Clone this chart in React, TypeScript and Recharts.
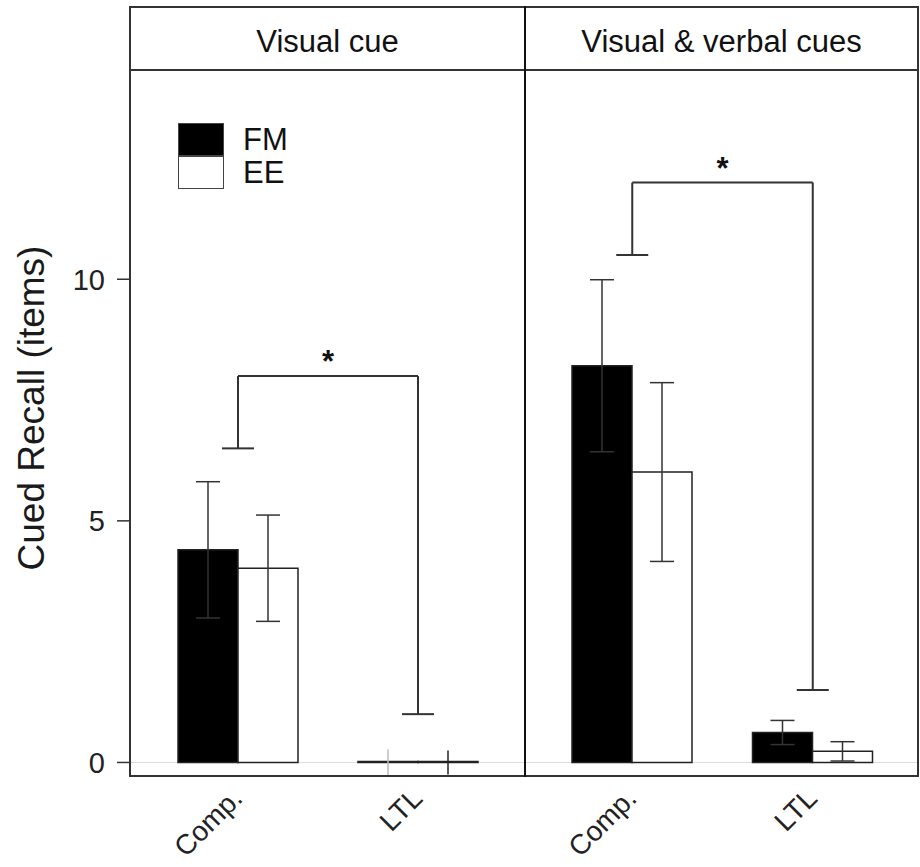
import React from 'react';
import { BarChart, Bar, XAxis, YAxis, ErrorBar, ReferenceLine, Legend } from 'recharts';

const panelTitles = ['Visual cue', 'Visual & verbal cues'];
const categories = ['Comp.', 'LTL'];
const seriesNames = ['FM', 'EE'];
const yTicks = [0, 5, 10];

// Visual cue panel
const visualFM = [4.4, 0];
const visualFMErr = [1.41, null];
const visualFMZeroErr = [null, 0.27];
const visualEE = [4.02, 0];
const visualEEErr = [1.1, null];
const visualEEZeroErr = [null, 0.25];

// Visual & verbal cues panel
const verbalFM = [8.21, 0.62];
const verbalFMErr = [1.78, 0.25];
const verbalEE = [6.01, 0.23];
const verbalEEErr = [1.85, 0.2];

// significance brackets, one per panel
const sigTop = [8, 12];
const sigCompEnd = [6.5, 10.5];
const sigLtlEnd = [1.0, 1.5];

const visualData = categories.map((cat, i) => ({
    cat,
    FM: visualFM[i],
    EE: visualEE[i],
    fmErr: visualFMErr[i],
    eeErr: visualEEErr[i],
    fmZero: visualFMZeroErr[i],
    eeZero: visualEEZeroErr[i],
}));

const verbalData = categories.map((cat, i) => ({
    cat,
    FM: verbalFM[i],
    EE: verbalEE[i],
    fmErr: verbalFMErr[i],
    eeErr: verbalEEErr[i],
    fmZero: null,
    eeZero: null,
}));

const INK = '#333';
const Y_DOMAIN = [-0.28, 14.33];

const CatTick = (props: any) => {
    const { x, y, payload } = props;
    const tx = x + 6;
    const ty = y + 22;
    return (
        <text x={tx} y={ty} textAnchor="end" fontSize={28} fill="#222" transform={`rotate(-45, ${tx}, ${ty})`}>
            {payload.value}
        </text>
    );
};

const Cap = (props: any) => (
    <line x1={props.x1 - 16} y1={props.y1} x2={props.x1 + 16} y2={props.y1} stroke={INK} strokeWidth={2} />
);

const YTitle = (props: any) => {
    const { viewBox } = props;
    const cx = viewBox.x + 44;
    const cy = viewBox.y + viewBox.height / 2 - 15;
    return (
        <text x={cx} y={cy} textAnchor="middle" fontSize={37} fill="#1a1a1a" transform={`rotate(-90, ${cx}, ${cy})`}>
            Cued Recall (items)
        </text>
    );
};

const LegendBox = ({ payload }: any) => {
    const items = [...(payload || [])].sort((a, b) => seriesNames.indexOf(a.value) - seriesNames.indexOf(b.value));
    return (
        <div>
            {items.map((item: any) => (
                <div key={item.value} style={{ display: 'flex', alignItems: 'flex-start', height: 33 }}>
                    <div style={{ width: 46, height: 33, background: item.color, border: '1.5px solid #444', boxSizing: 'border-box' }} />
                    <span style={{ marginLeft: 19, fontSize: 31, lineHeight: '33px', color: '#111' }}>{item.value}</span>
                </div>
            ))}
        </div>
    );
};

const bracket = (i: number) => [
    <ReferenceLine key="v1" segment={[{ x: categories[0], y: sigCompEnd[i] }, { x: categories[0], y: sigTop[i] }]} stroke={INK} strokeWidth={2} />,
    <ReferenceLine
        key="h"
        segment={[{ x: categories[0], y: sigTop[i] }, { x: categories[1], y: sigTop[i] }]}
        stroke={INK}
        strokeWidth={2}
        label={{ value: '*', position: 'top', offset: 4, fontSize: 31, fontWeight: 700, fill: '#111' }}
    />,
    <ReferenceLine key="v2" segment={[{ x: categories[1], y: sigTop[i] }, { x: categories[1], y: sigLtlEnd[i] }]} stroke={INK} strokeWidth={2} />,
    <ReferenceLine key="c1" segment={[{ x: categories[0], y: sigCompEnd[i] }, { x: categories[0], y: sigCompEnd[i] }]} shape={Cap} />,
    <ReferenceLine key="c2" segment={[{ x: categories[1], y: sigLtlEnd[i] }, { x: categories[1], y: sigLtlEnd[i] }]} shape={Cap} />,
];

const Panel = ({ data, idx, width }: { data: any[]; idx: number; width: number }) => {
    const first = idx === 0;
    return (
        <BarChart
            width={width}
            height={867}
            data={data}
            margin={{ top: 70, right: first ? 0 : 1, bottom: 0, left: 0 }}
            barSize={60}
            barGap={0}
        >
            <XAxis
                dataKey="cat"
                height={91}
                axisLine={false}
                tickLine={false}
                tickSize={0}
                interval={0}
                padding={first ? { left: 18, right: 17 } : { left: 17, right: 16 }}
                tick={(p: any) => <CatTick {...p} />}
            />
            <YAxis
                hide={!first}
                width={130}
                type="number"
                domain={Y_DOMAIN}
                ticks={yTicks}
                allowDataOverflow
                axisLine={false}
                tickSize={13}
                tickMargin={12}
                tickLine={{ stroke: INK, strokeWidth: 1.5 }}
                tick={{ fontSize: 29, fill: '#222' }}
                label={<YTitle />}
            />
            <ReferenceLine y={0} stroke="#dddddd" strokeWidth={1} zIndex={0} />
            {first && (
                <Legend
                    layout="horizontal"
                    verticalAlign="middle"
                    align="center"
                    wrapperStyle={{ top: 123, left: 178, width: 'auto', height: 'auto' }}
                    content={<LegendBox />}
                />
            )}
            <Bar dataKey="FM" name="FM" fill="#000000" stroke="#222" strokeWidth={1.5} minPointSize={1} isAnimationActive={false}>
                <ErrorBar dataKey="fmErr" width={12} stroke={INK} strokeWidth={1.5} isAnimationActive={false} />
                <ErrorBar dataKey="fmZero" width={0} stroke="#bbbbbb" strokeWidth={1.5} isAnimationActive={false} />
            </Bar>
            <Bar dataKey="EE" name="EE" fill="#ffffff" stroke="#222" strokeWidth={1.5} minPointSize={1} isAnimationActive={false}>
                <ErrorBar dataKey="eeErr" width={12} stroke={INK} strokeWidth={1.5} isAnimationActive={false} />
                <ErrorBar dataKey="eeZero" width={0} stroke="#222" strokeWidth={1.5} isAnimationActive={false} />
            </Bar>
            {bracket(idx)}
        </BarChart>
    );
};

const line = (style: React.CSSProperties): React.CSSProperties => ({
    position: 'absolute',
    background: INK,
    pointerEvents: 'none',
    ...style,
});

export default function App() {
    return (
        <div style={{ position: 'relative', width: 920, height: 867, background: '#fff', fontFamily: '"Liberation Sans", Arial, sans-serif', overflow: 'hidden' }}>
            <style>{'body{margin:0}'}</style>
            <div style={{ position: 'absolute', left: 0, top: 0 }}>
                <Panel data={visualData} idx={0} width={525} />
            </div>
            <div style={{ position: 'absolute', left: 525, top: 0 }}>
                <Panel data={verbalData} idx={1} width={395} />
            </div>

            {/* facet frame and strip */}
            <div style={line({ left: 129, top: 6, width: 790, height: 2 })} />
            <div style={line({ left: 129, top: 69, width: 790, height: 2 })} />
            <div style={line({ left: 129, top: 775, width: 790, height: 2 })} />
            <div style={line({ left: 129, top: 6, width: 2, height: 771 })} />
            <div style={line({ left: 917, top: 6, width: 2, height: 771 })} />
            <div style={line({ left: 524, top: 6, width: 2, height: 771, background: '#111' })} />

            {panelTitles.map((t, i) => (
                <div
                    key={t}
                    style={{
                        position: 'absolute',
                        left: i === 0 ? 130 : 525,
                        width: i === 0 ? 395 : 393,
                        top: 7,
                        height: 63,
                        paddingTop: 3,
                        boxSizing: 'border-box',
                        lineHeight: '63px',
                        textAlign: 'center',
                        fontSize: 31,
                        color: '#111',
                    }}
                >
                    {t}
                </div>
            ))}
        </div>
    );
}
